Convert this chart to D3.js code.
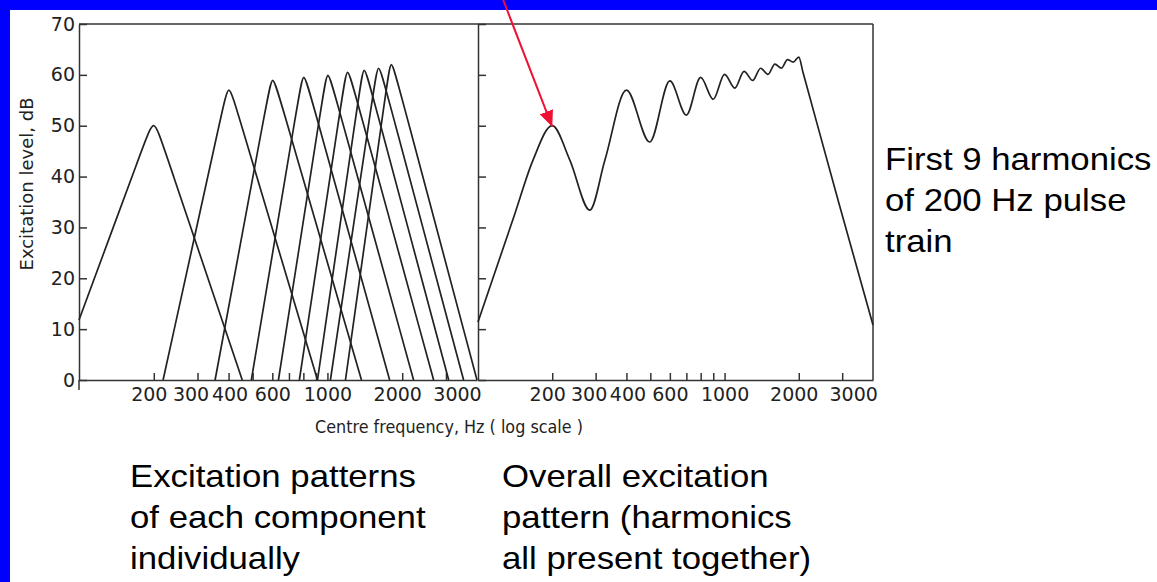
<!DOCTYPE html>
<html lang="en">
<head>
  <meta charset="UTF-8">
  <title>Excitation patterns of a 200 Hz pulse train</title>
  <script src="https://d3js.org/d3.v7.min.js"></script>
  <style>
    body {
      margin: 0;
      background: #0000fe;
    }
    svg {
      display: block;
    }
    .axis text {
      font-family: "DejaVu Sans", sans-serif;
      font-size: 19px;
      fill: #222;
    }
    .axis path, .axis line {
      stroke: #333;
      stroke-width: 1.5;
    }
    .frame {
      stroke: #333;
      stroke-width: 1.5;
    }
    .pattern {
      fill: none;
      stroke: #222;
      stroke-width: 1.7;
    }
    .title {
      font-family: "DejaVu Sans", sans-serif;
      font-size: 17px;
      fill: #222;
    }
    .caption {
      font-family: "Liberation Sans", Arial, sans-serif;
      font-size: 30.5px;
      fill: #000;
    }
  </style>
</head>
<body>
  <svg id="chart"></svg>

  <script>
    // harmonic frequencies (Hz) of the 200 Hz pulse train
    const harmonics = [200, 400, 600, 800, 1000, 1200, 1400, 1600, 1800];

    // each component: [low end, peak, high end] as [frequency Hz, level dB]
    const componentPatterns = [
      [[100, 11.8], [200, 50.0], [454, 0]],
      [[218, 0], [400, 57.0], [912, 0]],
      [[353, 0], [600, 58.9], [1371, 0]],
      [[494, 0], [800, 59.5], [1780, 0]],
      [[635, 0], [1000, 59.9], [2222, 0]],
      [[771, 0], [1200, 60.5], [2676, 0]],
      [[912, 0], [1400, 60.9], [3077, 0]],
      [[1028, 0], [1600, 61.3], [3533, 0]],
      [[1182, 0], [1800, 62.0], [4000, 0]]
    ];

    // overall excitation pattern, all harmonics together
    const overallPattern = [
      [100, 11.4], [140, 32.2], [167, 43.2], [200, 50], [236, 43.2], [284, 33.4],
      [327, 43.2], [400, 57], [497, 46.8], [600, 58.8], [700, 52.1], [800, 59.5],
      [900, 55.2], [1000, 60.1], [1100, 57.4], [1200, 60.7], [1300, 58.9],
      [1400, 61.3], [1500, 60.1], [1600, 62.1], [1700, 61.3], [1800, 63],
      [1900, 62.5], [2000, 63.5], [2080, 60.5], [2900, 35], [4000, 10.8]
    ];

    const yTicks = [0, 10, 20, 30, 40, 50, 60, 70];
    const xTicks = [200, 300, 400, 500, 600, 700, 800, 900, 1000, 2000, 3000];
    const xLabels = [200, 300, 400, 600, 1000, 2000, 3000];

    const captionLeft = ["Excitation patterns", "of each component", "individually"];
    const captionMiddle = ["Overall excitation", "pattern (harmonics", "all present together)"];
    const captionRight = ["First 9 harmonics", "of 200 Hz pulse", "train"];

    const width = 1157, height = 582;
    const plotTop = 24, plotBottom = 380;
    const leftRange = [79, 477], rightRange = [478, 873];
    // small hand-lettering offsets of some tick labels
    const labelNudge = {200: -5, 300: -7, 400: 1, 2000: -5, 3000: 11};

    const svg = d3.select("#chart")
        .attr("width", width)
        .attr("height", height);

    // white slide area inside the blue border
    svg.append("rect")
        .attr("x", 10).attr("y", 10)
        .attr("width", width - 10).attr("height", height - 10)
        .attr("fill", "#fff");

    const y = d3.scaleLinear().domain([0, 70]).range([plotBottom, plotTop]);
    const xLeft = d3.scaleLog().domain([100, 4000]).range(leftRange);
    const xRight = d3.scaleLog().domain([100, 4000]).range(rightRange);

    // frame: top edge and right edge
    svg.append("line").attr("class", "frame")
        .attr("x1", leftRange[0]).attr("x2", rightRange[1])
        .attr("y1", plotTop).attr("y2", plotTop);
    svg.append("line").attr("class", "frame")
        .attr("x1", rightRange[1]).attr("x2", rightRange[1])
        .attr("y1", plotTop).attr("y2", plotBottom);
    // the left axis runs a little below zero
    svg.append("line").attr("class", "frame")
        .attr("x1", leftRange[0]).attr("x2", leftRange[0])
        .attr("y1", plotBottom).attr("y2", plotBottom + 10);

    // y axes (ticks point inward)
    svg.append("g")
        .attr("class", "axis")
        .attr("transform", `translate(${leftRange[0]},0)`)
        .call(d3.axisLeft(y).tickValues(yTicks).tickSizeInner(-8).tickSizeOuter(0).tickPadding(4));

    svg.append("g")
        .attr("class", "axis")
        .attr("transform", `translate(${rightRange[0]},0)`)
        .call(d3.axisLeft(y).tickValues(yTicks).tickSizeInner(-8).tickSizeOuter(0).tickFormat(""));

    // x axes
    [xLeft, xRight].forEach(x => {
      const g = svg.append("g")
          .attr("class", "axis")
          .attr("transform", `translate(0,${plotBottom})`)
          .call(d3.axisBottom(x)
            .tickValues(xTicks)
            .tickSizeInner(-7)
            .tickSizeOuter(0)
            .tickPadding(8)
            .tickFormat(d => xLabels.includes(d) ? String(d) : ""));
      g.selectAll(".tick text")
          .attr("dx", d => labelNudge[d] || 0);
    });

    // left panel: one pattern per harmonic, straight skirts with a rounded tip
    function roundedPeak(points) {
      const [p0, c, p2] = points.map(d => [xLeft(d[0]), y(d[1])]);
      const lift = 24;
      const tip = [c[0], c[1] - lift / 3];
      const along = (p) => {
        const t = lift / (p[1] - tip[1]);
        return [tip[0] + (p[0] - tip[0]) * t, tip[1] + (p[1] - tip[1]) * t];
      };
      return [p0, along(p0), tip, along(p2), p2];
    }

    const basisLine = d3.line().curve(d3.curveBasis);

    svg.append("g")
      .selectAll("path")
      .data(componentPatterns)
      .join("path")
        .attr("class", "pattern")
        .attr("data-harmonic", (d, i) => harmonics[i])
        .attr("d", d => basisLine(roundedPeak(d)));

    // right panel: overall pattern
    const overallLine = d3.line()
        .x(d => xRight(d[0]))
        .y(d => y(d[1]))
        .curve(d3.curveMonotoneX);

    svg.append("path")
        .datum(overallPattern)
        .attr("class", "pattern")
        .attr("d", overallLine);

    // axis titles
    svg.append("text")
        .attr("class", "title")
        .attr("x", 449).attr("y", 433)
        .attr("text-anchor", "middle")
        .attr("textLength", 268)
        .attr("lengthAdjust", "spacingAndGlyphs")
        .text("Centre frequency, Hz ( log scale )");

    svg.append("text")
        .attr("class", "title")
        .attr("transform", "translate(33,184) rotate(-90)")
        .attr("text-anchor", "middle")
        .attr("textLength", 173)
        .attr("lengthAdjust", "spacingAndGlyphs")
        .text("Excitation level, dB");

    // captions
    function caption(lines, x0, y0) {
      const g = svg.append("g")
          .attr("transform", `translate(${x0},${y0}) scale(1.14,1)`);
      g.selectAll("text")
        .data(lines)
        .join("text")
          .attr("class", "caption")
          .attr("x", 0)
          .attr("y", (d, i) => i * 41)
          .text(d => d);
    }
    caption(captionLeft, 130, 487);
    caption(captionMiddle, 502, 487);
    caption(captionRight, 885, 170);

    // red arrow pointing at the first peak of the overall pattern
    const defs = svg.append("defs");
    defs.append("marker")
        .attr("id", "arrowhead")
        .attr("markerUnits", "userSpaceOnUse")
        .attr("markerWidth", 16).attr("markerHeight", 14)
        .attr("refX", 16).attr("refY", 7)
        .attr("orient", "auto")
      .append("path")
        .attr("d", "M0,0 L16,7 L0,14 Z")
        .attr("fill", "#ee1133");

    const tipX = xRight(200), tipY = y(50) + 1;
    svg.append("line")
        .attr("x1", tipX - 49).attr("y1", 0)
        .attr("x2", tipX).attr("y2", tipY)
        .attr("stroke", "#ee1133")
        .attr("stroke-width", 2)
        .attr("marker-end", "url(#arrowhead)");
  </script>
</body>
</html>
